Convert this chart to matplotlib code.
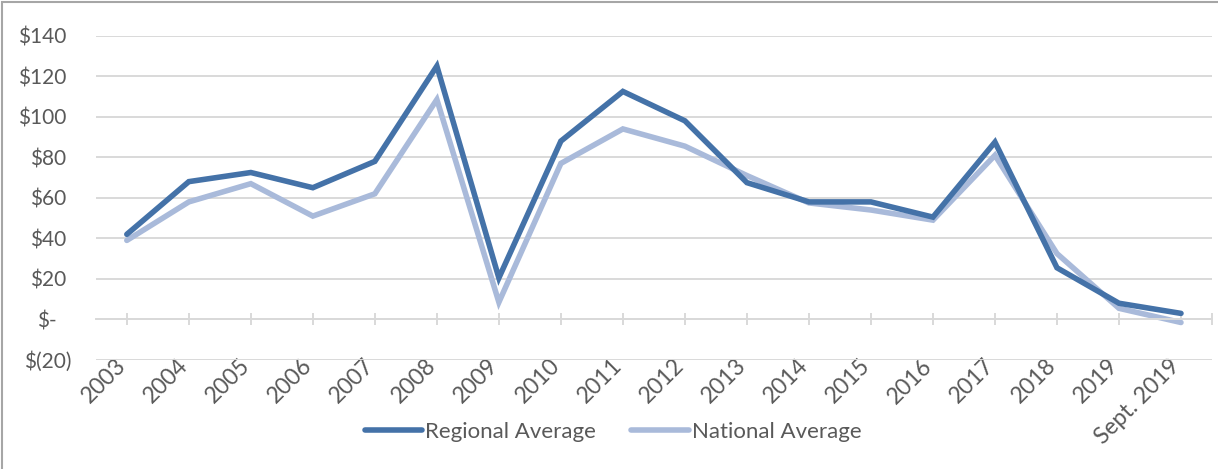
import numpy as np
import matplotlib.pyplot as plt
from matplotlib.patches import Rectangle
from matplotlib.transforms import ScaledTranslation

# values
years = ['2003', '2004', '2005', '2006', '2007', '2008', '2009', '2010', '2011',
         '2012', '2013', '2014', '2015', '2016', '2017', '2018', '2019', 'Sept. 2019']
regional_avg = [42, 68, 72.5, 65, 78, 125, 20.5, 88, 112.5,
                98, 67.5, 58, 58, 50.5, 87.5, 25.5, 8, 3]
national_avg = [39, 58, 67, 51, 62, 108.5, 8.5, 77, 94,
                85.5, 71, 57.5, 54, 49, 81, 32.5, 5.5, -1.5]
y_ticks = [-20, 0, 20, 40, 60, 80, 100, 120, 140]
y_labels = ['$(20)', '$-', '$20', '$40', '$60', '$80', '$100', '$120', '$140']

REGIONAL_COLOR = '#4472A8'
NATIONAL_COLOR = '#A9BADA'
TEXT_COLOR = '#595959'
GRID_COLOR = '#D9D9D9'

plt.rcParams['font.family'] = ['Lato', 'DejaVu Sans']


def shift(lab, dx, dy=0):
    # nudge a tick label by pixels (figure is at 100 dpi)
    lab.set_transform(lab.get_transform() + ScaledTranslation(dx / 100, dy / 100, fig.dpi_scale_trans))


fig = plt.figure(figsize=(12.18, 4.69), dpi=100)
ax = fig.add_axes([95.8 / 1218, 1 - 360 / 469, (1212 - 95.8) / 1218, (360 - 35.7) / 469])

x = np.arange(len(years))
ax.plot(x, regional_avg, color=REGIONAL_COLOR, lw=4.0, solid_joinstyle='miter',
        solid_capstyle='round', label='Regional Average', zorder=3)
ax.plot(x, national_avg, color=NATIONAL_COLOR, lw=4.0, solid_joinstyle='miter',
        solid_capstyle='round', label='National Average', zorder=2)

ax.set_xlim(-0.5, len(years) - 0.5)
ax.set_ylim(-20, 140)

ax.set_yticks(y_ticks)
ax.set_yticklabels(y_labels)
ax.yaxis.grid(True, color=GRID_COLOR, lw=1.4)
ax.set_axisbelow(True)
ax.tick_params(axis='y', length=0, pad=21, labelsize=15, labelcolor=TEXT_COLOR)
for lab in ax.get_yticklabels():
    if lab.get_text() == '$-':
        shift(lab, -10)
    elif lab.get_text() == '$(20)':
        shift(lab, 5)

for side in ['top', 'right', 'left']:
    ax.spines[side].set_visible(False)
ax.spines['bottom'].set_position(('data', 0))
ax.spines['bottom'].set_color(GRID_COLOR)
ax.spines['bottom'].set_linewidth(1.4)

ax.set_xticks(x)
ax.set_xticklabels(years, rotation=45, ha='right', rotation_mode='default')
ax.set_xticks([len(years) - 0.5], minor=True)
ax.tick_params(axis='x', which='both', direction='inout', length=8, width=1.4, color=GRID_COLOR)
ax.tick_params(axis='x', which='major', pad=13, labelsize=16.5, labelcolor=TEXT_COLOR)
for lab in ax.get_xticklabels():
    shift(lab, 3, -12)

leg = fig.legend(loc='center', bbox_to_anchor=(613 / 1218, 1 - 432 / 469), ncol=2,
                 frameon=False, fontsize=16, handlelength=2.6, handletextpad=0.12,
                 columnspacing=1.6)
for t in leg.get_texts():
    t.set_color(TEXT_COLOR)

fig.patches.append(Rectangle((1.5 / 1218, -0.1), 1.2, 1.1 - 2.5 / 469, transform=fig.transFigure,
                             fill=False, edgecolor='#A6A6A6', lw=1.5))

fig.savefig('out.png', dpi=100)
